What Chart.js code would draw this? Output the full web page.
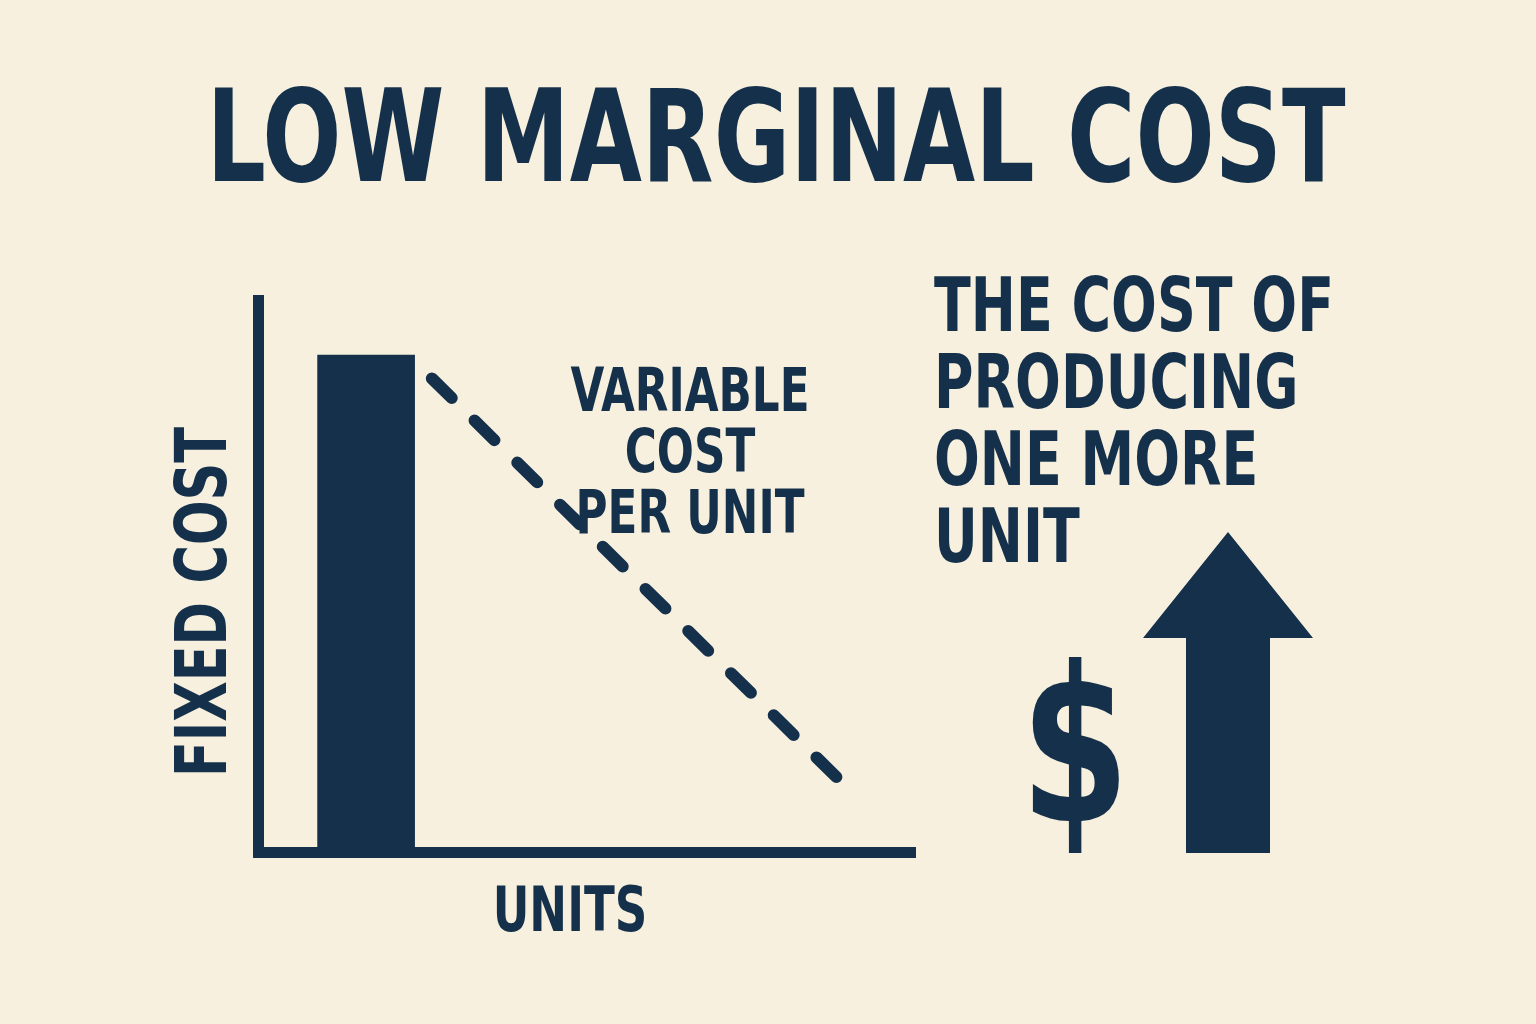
<!DOCTYPE html>
<html>
<head>
<meta charset="utf-8">
<script src="https://cdn.jsdelivr.net/npm/chart.js@4"></script>
<style>
  html, body { margin: 0; padding: 0; background: #f8f0de; }
  #wrap { width: 1536px; height: 1024px; }
</style>
</head>
<body>
<div id="wrap"><canvas id="grafico"></canvas></div>
<script>
// data
const fixedCost = [{ x: 1.31, y: 9.0 }];
const variableCost = [{ x: 2.41, y: 8.58 }, { x: 9.36, y: 1.17 }];
const titulo = 'LOW MARGINAL COST';
const ladoDerecho = ['THE COST OF', 'PRODUCING', 'ONE MORE', 'UNIT'];
const etiquetaVariable = ['VARIABLE', 'COST', 'PER UNIT'];

const azul = '#14304a';
const fuente = '"DejaVu Sans Condensed", "Roboto", sans-serif';
const estrecho = 0.81;

function texto(c, t, x, y, size, align) {
  c.save();
  c.font = 'bold ' + size + 'px ' + fuente;
  c.textAlign = align;
  c.translate(x, y);
  c.scale(estrecho, 1);
  c.fillText(t, 0, 0);
  c.restore();
}

const textos = {
  id: 'textos',
  afterDraw(chart) {
    const c = chart.ctx;
    c.save();
    c.fillStyle = azul;
    c.textBaseline = 'middle';

    texto(c, titulo, 776, 148, 128, 'center');
    etiquetaVariable.forEach((t, i) => texto(c, t, 690, 395 + i * 61, 60, 'center'));
    texto(c, 'UNITS', 570, 915, 62, 'center');

    c.save();
    c.translate(207, 602);
    c.rotate(-Math.PI / 2);
    texto(c, 'FIXED COST', 0, 0, 72, 'center');
    c.restore();

    ladoDerecho.forEach((t, i) => texto(c, t, 934, 312 + i * 77, 74, 'left'));
    texto(c, '$', 1075, 765, 215, 'center');

    // flecha
    c.beginPath();
    c.moveTo(1228, 532);
    c.lineTo(1313, 638);
    c.lineTo(1270, 638);
    c.lineTo(1270, 853);
    c.lineTo(1186, 853);
    c.lineTo(1186, 638);
    c.lineTo(1143, 638);
    c.closePath();
    c.fill();
    c.restore();
  }
};

new Chart(document.getElementById('grafico').getContext('2d'), {
  data: {
    datasets: [{
      type: 'bar',
      data: fixedCost,
      backgroundColor: azul,
      barThickness: 97,
      borderWidth: 0
    }, {
      type: 'line',
      data: variableCost,
      borderColor: azul,
      borderWidth: 12,
      borderDash: [28, 32],
      borderCapStyle: 'round',
      pointRadius: 0,
      fill: false
    }]
  },
  options: {
    responsive: true,
    maintainAspectRatio: false,
    animation: false,
    layout: { padding: { left: 250, right: 621, top: 300, bottom: 164 } },
    plugins: { legend: { display: false }, tooltip: { enabled: false } },
    scales: {
      x: {
        type: 'linear', min: 0, max: 10,
        grid: { display: false },
        ticks: { display: false },
        border: { color: azul, width: 11 }
      },
      y: {
        min: 0, max: 10,
        grid: { display: false },
        ticks: { display: false },
        border: { color: azul, width: 11 }
      }
    }
  },
  plugins: [textos]
});
</script>
</body>
</html>
